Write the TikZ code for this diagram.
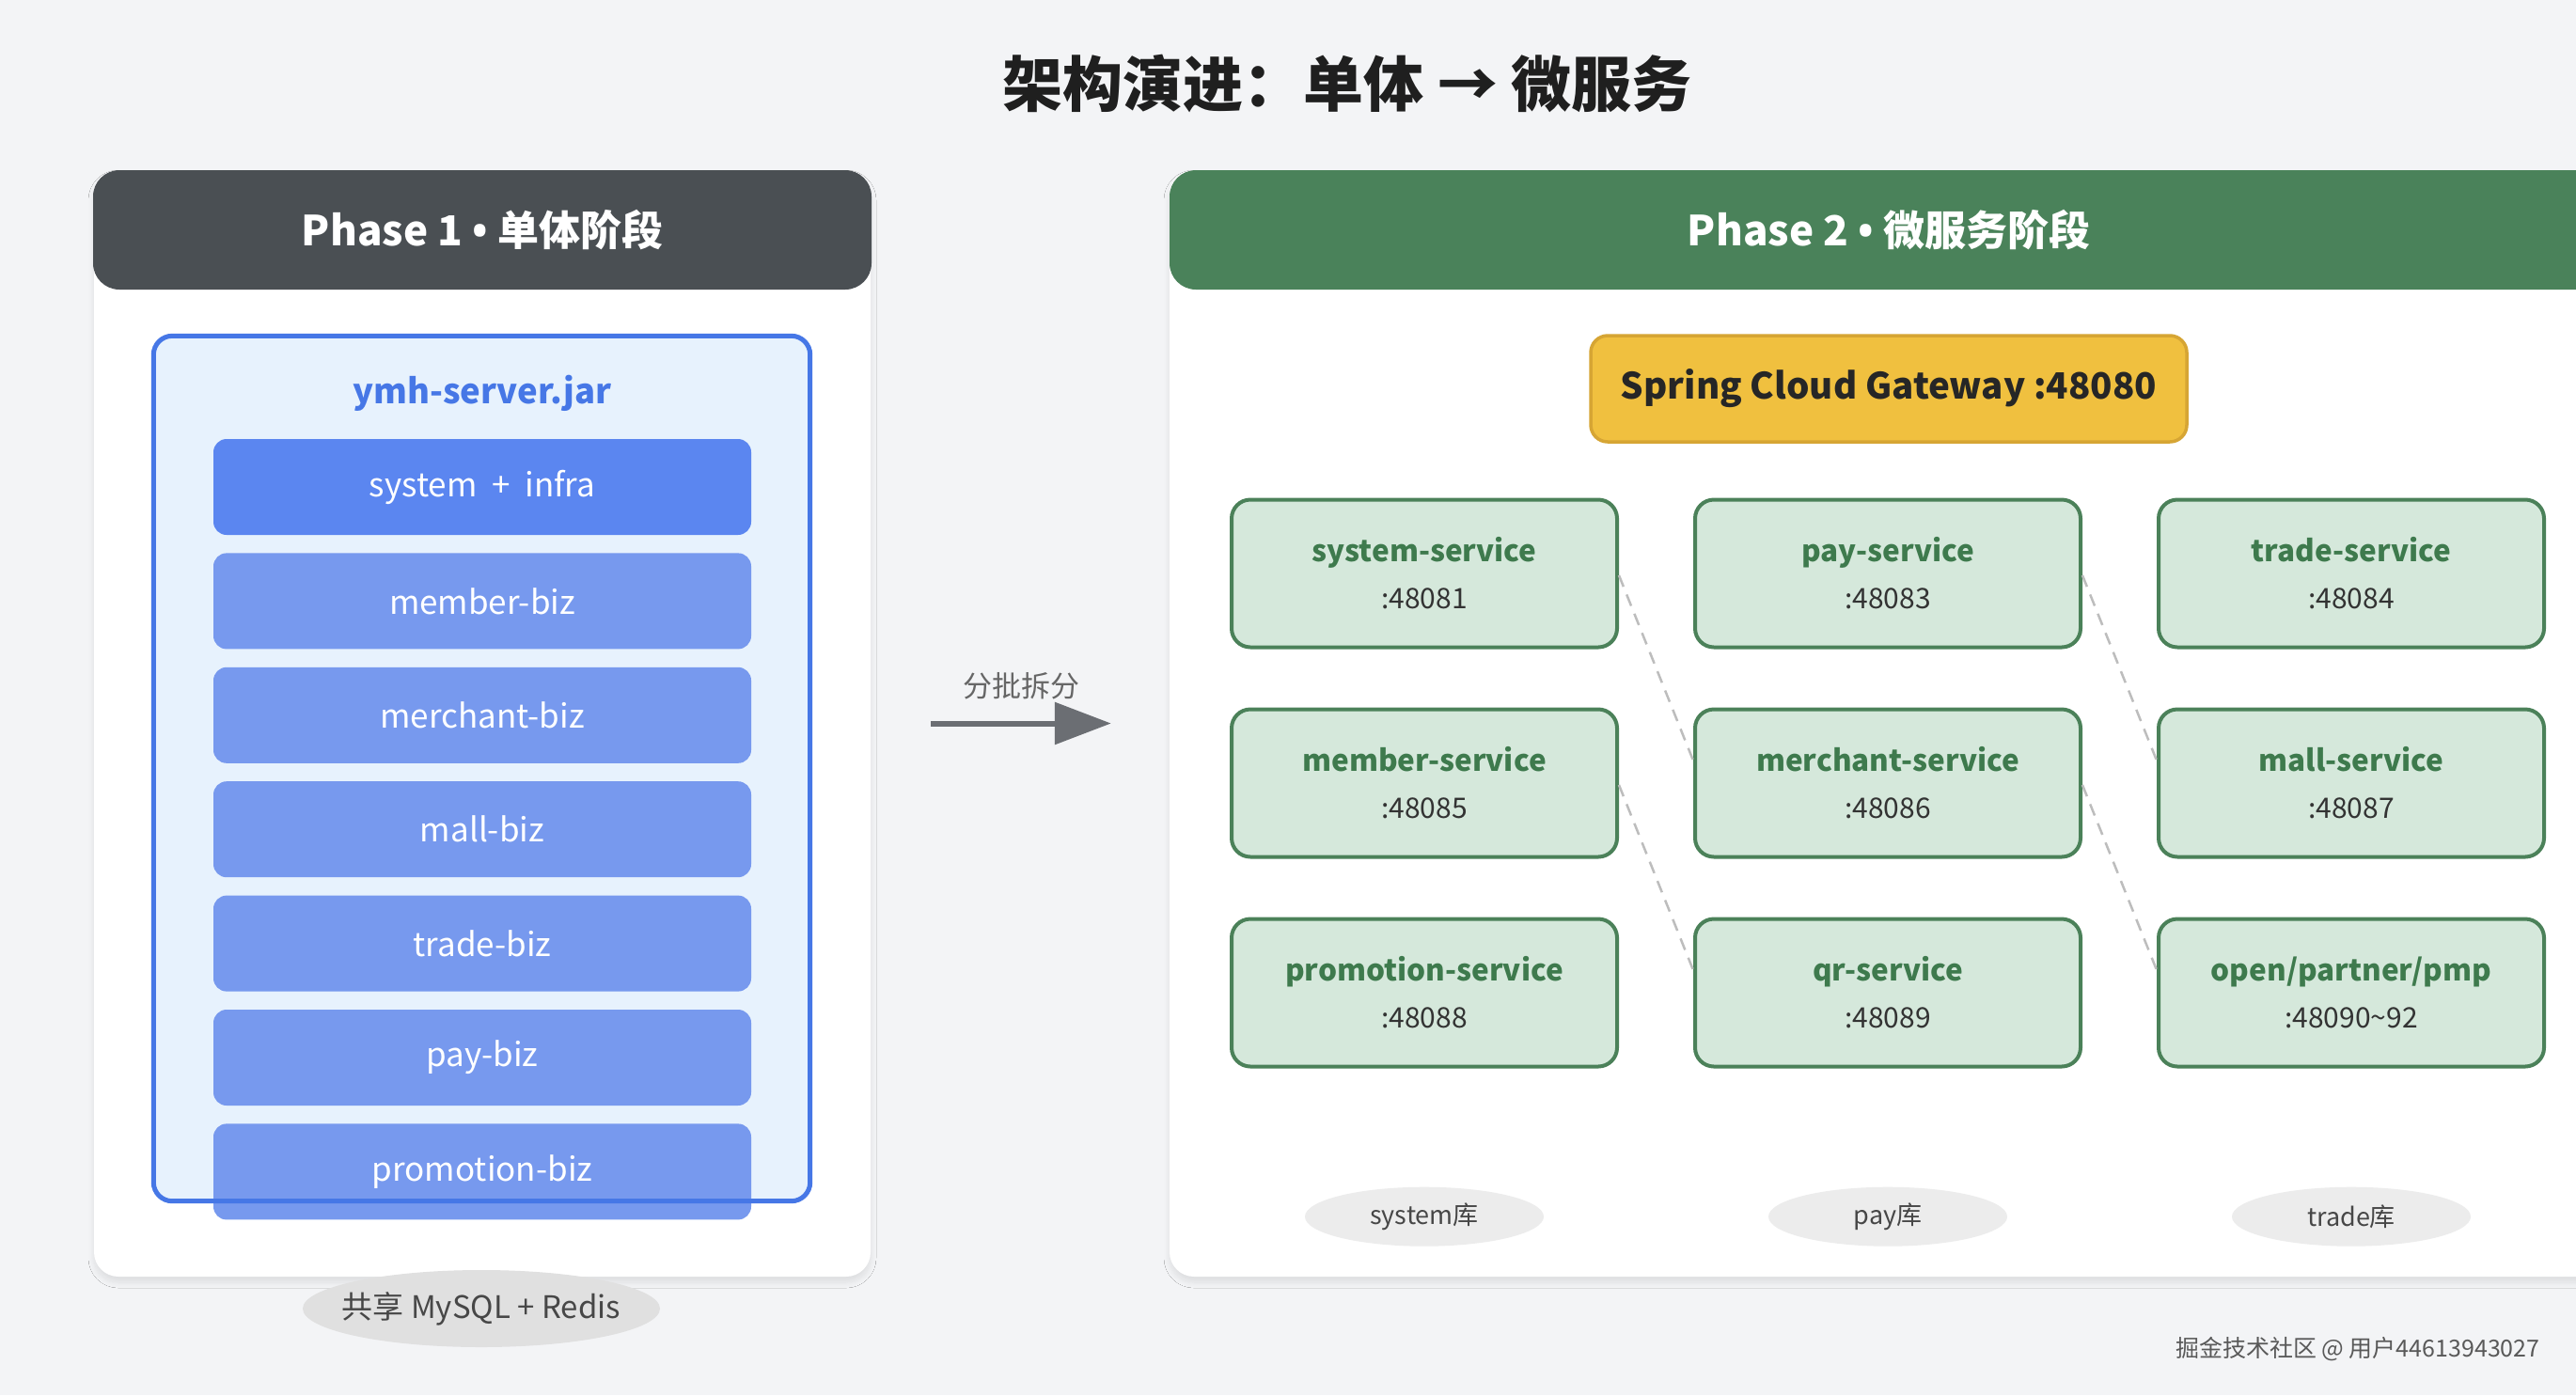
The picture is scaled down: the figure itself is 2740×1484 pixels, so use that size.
\documentclass[tikz,border=0pt]{standalone}
\usepackage{fontspec}
\setmainfont{Noto Sans CJK SC}
\newfontfamily\bulletfont{Open Sans}
\usetikzlibrary{positioning, arrows.meta, shapes.geometric, shadows.blur}

\definecolor{pagebg}{HTML}{F3F4F6}
\definecolor{headgray}{HTML}{4A4F53}
\definecolor{headgreen}{HTML}{4A825A}
\definecolor{jarfill}{HTML}{E7F2FD}
\definecolor{jarblue}{HTML}{4677E6}
\definecolor{coreblue}{HTML}{5B86F0}
\definecolor{bizblue}{HTML}{7799EE}
\definecolor{svcfill}{HTML}{D5E8DB}
\definecolor{svcline}{HTML}{4B8159}
\definecolor{svcgreen}{HTML}{3E7A4D}
\definecolor{gatefill}{HTML}{F0C03F}
\definecolor{gateline}{HTML}{D6A534}
\definecolor{dbfill}{HTML}{ECECEC}
\definecolor{arrowgray}{HTML}{6B6E73}
\definecolor{linkgray}{HTML}{BDBDBD}
\definecolor{inkdark}{HTML}{333333}

% service name on top, port below
\newcommand{\svclabel}[2]{{\fontsize{31.5}{50}\selectfont\bfseries\color{svcgreen}#1}\\#2}
\newcommand{\sep}{ {\bulletfont •} }

\begin{document}
\begin{tikzpicture}[
    x=1pt, y=-1pt,
    node distance=19pt and 79pt,
    panel/.style={rectangle, fill=white, rounded corners=26pt, minimum width=#1, minimum height=1177pt, inner sep=0pt,
        blur shadow={shadow xshift=0pt, shadow yshift=-6pt, shadow blur radius=6pt, shadow opacity=9, shadow blur steps=10}},
    header/.style={rectangle, fill=#1, rounded corners=28pt, minimum height=127pt, inner sep=0pt, text=white, font=\fontsize{44}{50}\selectfont\bfseries},
    bizbox/.style={rectangle, fill=#1, rounded corners=14pt, minimum width=572pt, minimum height=102pt, inner sep=0pt, text=white, font=\fontsize{35}{40}\selectfont},
    bizbox/.default=bizblue,
    svcbox/.style={rectangle, draw=svcline, line width=4pt, fill=svcfill, rounded corners=20pt, minimum width=410pt, minimum height=157pt, inner sep=0pt, align=center, text=inkdark, font=\fontsize{30}{50}\selectfont},
    gatebox/.style={rectangle, draw=gateline, line width=3.5pt, fill=gatefill, rounded corners=18pt, minimum width=634pt, minimum height=113pt, inner sep=0pt, text=black!85, font=\fontsize{38.5}{44}\selectfont\bfseries},
    dbdisk/.style={ellipse, fill=dbfill, minimum width=254pt, minimum height=63pt, inner sep=0pt, text=black!72, font=\fontsize{27}{30}\selectfont},
    splitarrow/.style={-{Triangle[length=60pt, width=44pt]}, line width=6pt, draw=arrowgray},
    link/.style={draw=linkgray, line width=2.5pt, dash pattern=on 13pt off 9pt}
]

\useasboundingbox (0,0) rectangle (2740,1484);
\clip (0,0) rectangle (2740,1484);
\fill[pagebg] (0,0) rectangle (2740,1484);

% Title
\node[font=\fontsize{64}{74}\selectfont\bfseries, text=black!88] (title) at (1433,89) {架构演进：单体 → 微服务};

% Panels
\node[panel=826pt] (p1) at (513,769.5) {};
\node[panel=1530pt] (p2) at (2009,769.5) {};
\node[header=headgray, minimum width=828pt] (h1) at (513,244.5) {Phase 1\sep 单体阶段};
\node[header=headgreen, minimum width=1530pt] (h2) at (2009,244.5) {Phase 2\sep 微服务阶段};

% Monolith jar
\node[rectangle, fill=jarfill, rounded corners=20pt, minimum width=698pt, minimum height=920pt, inner sep=0pt] (jar) at (512.5,817.5) {};
\node[font=\fontsize{36.5}{44}\selectfont\bfseries, text=jarblue] (jarname) at (513,418) {ymh-server.jar};

\node[bizbox=coreblue] (core) at (513,518) {system \ + \ infra};
\node[bizbox, below=of core] (member) {member-biz};
\node[bizbox, below=of member] (merchant) {merchant-biz};
\node[bizbox, below=of merchant] (mall) {mall-biz};
\node[bizbox, below=of mall] (trade) {trade-biz};
\node[bizbox, below=of trade] (pay) {pay-biz};
\node[bizbox, below=of pay] (promotion) {promotion-biz};

% jar border drawn over the modules
\draw[jarblue, line width=5pt, rounded corners=20pt] (jar.north west) rectangle (jar.south east);

% Shared storage
\coordinate (shared) at (512,1392);
\fill[black!12] (shared) ellipse [x radius=190pt, y radius=41pt];
\node[text=black!72, font=\fontsize{33}{38}\selectfont] (shareddb) at (shared) {共享 MySQL + Redis};

% Split arrow
\draw[splitarrow] ([xshift=64pt]p1.east) -- node[above=19pt, font=\fontsize{31}{36}\selectfont, text=black!60] {分批拆分} ([xshift=-62pt]p2.west);

% Gateway
\node[gatebox] (gateway) at (2009,413.5) {Spring Cloud Gateway :48080};

% Services
\node[svcbox] (sys) at (1515,610) {\svclabel{system-service}{:48081}};
\node[svcbox, right=of sys] (paysvc) {\svclabel{pay-service}{:48083}};
\node[svcbox, right=of paysvc] (tradesvc) {\svclabel{trade-service}{:48084}};
\node[svcbox, below=62pt of sys] (membersvc) {\svclabel{member-service}{:48085}};
\node[svcbox, right=of membersvc] (merchantsvc) {\svclabel{merchant-service}{:48086}};
\node[svcbox, right=of merchantsvc] (mallsvc) {\svclabel{mall-service}{:48087}};
\node[svcbox, below=62pt of membersvc] (promosvc) {\svclabel{promotion-service}{:48088}};
\node[svcbox, right=of promosvc] (qrsvc) {\svclabel{qr-service}{:48089}};
\node[svcbox, right=of qrsvc] (opensvc) {\svclabel{open/partner/pmp}{:48090\textasciitilde92}};

% Dashed links between columns
\draw[link] ([yshift=-2pt]sys.east) -- ([yshift=24pt]merchantsvc.west);
\draw[link] ([yshift=-2pt]membersvc.east) -- ([yshift=24pt]qrsvc.west);
\draw[link] ([yshift=-2pt]paysvc.east) -- ([yshift=24pt]mallsvc.west);
\draw[link] ([yshift=-2pt]merchantsvc.east) -- ([yshift=24pt]opensvc.west);

% Databases
\node[dbdisk, below=126pt of promosvc] (sysdb) {system库};
\node[dbdisk, below=126pt of qrsvc] (paydb) {pay库};
\node[dbdisk, below=126pt of opensvc] (tradedb) {trade库};

% Footer
\node[anchor=east, font=\fontsize{25}{28}\selectfont, text=black!65] (footer) at (2705,1435) {掘金技术社区 @ 用户44613943027};

\end{tikzpicture}
\end{document}
